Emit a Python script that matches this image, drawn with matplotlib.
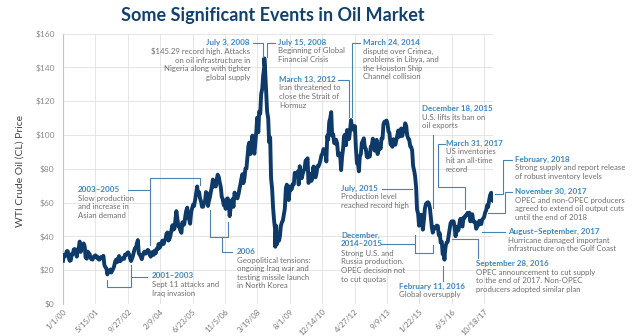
import matplotlib
matplotlib.use("Agg")
import matplotlib.pyplot as plt
import pandas as pd
from matplotlib.lines import Line2D

plt.rcParams["font.family"] = ["Lato", "DejaVu Sans"]

# WTI crude oil price (USD/bbl), readings on the 1st and 15th of each month
wti_2000 = [25.6, 29.0, 28.2, 29.6, 31.3, 31.2, 26.9, 25.5, 25.9, 29.6, 29.4, 32.3,
            32.5, 31.0, 28.0, 31.5, 33.4, 36.9, 30.8, 34.8, 34.0, 35.8, 34.0, 27.5]
wti_2001 = [26.8, 31.0, 30.2, 29.5, 27.4, 26.5, 26.3, 27.8, 28.3, 28.8, 27.5, 28.0,
            26.5, 26.2, 27.3, 27.9, 27.0, 28.5, 23.0, 21.9, 21.0, 17.5, 19.5, 19.4]
wti_2002 = [20.4, 18.6, 20.0, 21.0, 22.5, 25.0, 26.3, 24.7, 26.7, 28.4, 25.3, 25.9,
            26.9, 27.2, 26.7, 29.2, 29.1, 29.8, 30.6, 29.5, 27.0, 25.4, 26.9, 28.5]
wti_2003 = [31.2, 33.0, 33.4, 36.0, 37.8, 30.0, 29.0, 28.0, 26.5, 28.8, 30.5, 31.0,
            29.8, 30.8, 32.0, 31.5, 29.2, 28.0, 29.0, 30.8, 29.1, 31.5, 30.0, 32.6]
wti_2004 = [32.5, 35.5, 33.3, 34.4, 36.5, 37.5, 35.5, 37.5, 38.3, 41.5, 42.3, 37.5,
            38.5, 40.5, 43.8, 46.6, 44.0, 44.5, 50.1, 54.9, 50.1, 46.0, 45.5, 43.5]
wti_2005 = [42.1, 48.3, 46.7, 47.3, 51.7, 55.0, 57.0, 51.0, 50.0, 47.5, 54.5, 56.5,
            58.8, 58.0, 61.6, 65.0, 69.5, 64.7, 66.2, 62.6, 60.5, 57.5, 57.5, 59.5]
wti_2006 = [61.0, 66.2, 65.5, 58.0, 61.0, 63.0, 66.6, 69.3, 73.6, 69.5, 70.3, 69.5,
            73.9, 76.5, 75.0, 72.0, 69.0, 63.4, 62.0, 58.5, 58.7, 56.3, 62.0, 62.5]
wti_2007 = [61.0, 52.0, 57.5, 58.0, 62.0, 57.5, 65.9, 63.6, 63.7, 62.5, 65.0, 68.0,
            71.0, 74.0, 76.8, 71.5, 74.5, 80.0, 80.2, 86.0, 93.5, 95.5, 88.7, 91.3]
wti_2008 = [99.6, 91.9, 88.9, 95.5, 101.8, 110.2, 101.6, 113.8, 112.5, 124.1, 127.4, 134.9,
            140.0, 138.7, 125.1, 113.8, 109.7, 95.7, 98.5, 74.5, 67.8, 57.0, 49.3, 44.5]
wti_2009 = [46.3, 35.4, 40.1, 37.5, 40.2, 46.2, 48.4, 49.4, 53.2, 56.3, 68.6, 70.6,
            69.3, 61.5, 69.5, 67.5, 68.1, 71.0, 70.8, 77.6, 77.0, 76.4, 78.4, 70.7]
wti_2010 = [81.5, 78.0, 74.4, 77.0, 78.7, 79.8, 84.9, 84.5, 86.2, 71.6, 72.6, 76.9,
            72.9, 76.6, 81.3, 75.4, 74.9, 77.0, 81.6, 81.3, 82.9, 84.9, 88.0, 88.6]
wti_2011 = [91.6, 91.5, 90.8, 84.3, 99.6, 97.2, 107.9, 109.7, 113.5, 99.6, 100.3, 95.3,
            94.9, 97.2, 94.9, 87.9, 88.9, 88.9, 79.2, 86.8, 92.2, 99.4, 100.2, 93.9]
wti_2012 = [102.9, 98.7, 97.6, 102.3, 108.8, 105.1, 105.2, 102.8, 105.2, 92.8, 83.2, 84.0,
            78.5, 87.1, 88.9, 95.3, 96.5, 98.0, 92.5, 91.9, 87.1, 86.7, 88.9, 87.2]
wti_2013 = [93.1, 93.3, 97.8, 95.9, 90.7, 93.5, 97.1, 88.7, 91.0, 94.3, 91.9, 97.9,
            97.9, 106.3, 107.9, 107.3, 108.5, 106.6, 102.0, 101.2, 94.6, 93.8, 93.0, 97.5]
wti_2014 = [95.4, 94.2, 97.5, 100.3, 102.6, 98.9, 99.7, 103.8, 99.4, 102.0, 102.7, 106.9,
            105.3, 100.0, 97.9, 97.4, 93.3, 92.9, 90.7, 81.8, 78.8, 75.6, 69.0, 55.9]
wti_2015 = [53.3, 46.3, 48.2, 52.8, 49.6, 44.0, 50.1, 56.4, 59.2, 59.7, 60.2, 59.5,
            56.9, 51.4, 45.2, 42.2, 45.4, 44.6, 45.1, 46.4, 46.1, 40.7, 41.8, 36.3]
wti_2016 = [36.8, 29.4, 31.6, 29.0, 34.4, 36.3, 36.8, 40.4, 44.8, 47.7, 48.9, 48.0,
            48.9, 45.9, 40.1, 45.7, 43.2, 43.9, 48.2, 50.4, 46.7, 45.8, 51.1, 50.9]
wti_2017 = [52.3, 52.4, 53.9, 53.1, 54.0, 48.9, 50.6, 53.1, 48.8, 48.9, 48.4, 44.5,
            46.0, 46.5, 49.2, 47.6, 47.3, 49.9, 50.6, 51.5, 54.3, 55.3, 58.4, 57.3]
wti_2018 = [61.4, 64.3, 65.8, 61.3, 61.0]

# single-day extremes called out in the notes
extreme_dates = ["2008-07-03", "2008-12-19", "2016-02-11"]
extreme_prices = [145.29, 33.87, 26.21]

tick_labels = ["1/1/00", "5/15/01", "9/27/02", "2/9/04", "6/23/05", "11/5/06", "3/19/08",
               "8/1/09", "12/14/10", "4/27/12", "9/9/13", "1/22/15", "6/5/16", "10/18/17"]
price_ticks = [0, 20, 40, 60, 80, 100, 120, 140, 160]

event_titles = [
    "July 3, 2008", "July 15, 2008", "March 13, 2012", "March 24, 2014",
    "December 18, 2015", "March 31, 2017", "February, 2018", "November 30, 2017",
    "August\u2013September, 2017", "September 28, 2016", "February 11, 2016",
    "July, 2015", "December,\n2014\u20132015", "2003\u20132005", "2001\u20132003", "2006",
]
event_notes = [
    "$145.29 record high. Attacks\non oil infrastructure in\nNigeria along with tighter\nglobal supply",
    "Beginning of Global\nFinancial Crisis",
    "Iran threatened to\nclose the Strait of\nHormuz",
    "dispute over Crimea,\nproblems in Libya, and\nthe Houston Ship\nChannel collision",
    "U.S. lifts its ban on\noil exports",
    "US inventories\nhit an all-time\nrecord",
    "Strong supply and report release\nof robust inventory levels",
    "OPEC and non-OPEC producers\nagreed to extend oil output cuts\nuntil the end of 2018",
    "Hurricane damaged important\ninfrastructure on the Gulf Coast",
    "OPEC announcement to cut supply\nto the end of 2017. Non-OPEC\nproducers adopted similar plan",
    "Global oversupply",
    "Production level\nreached record high",
    "Strong U.S. and\nRussia production.\nOPEC decision not\nto cut quotas",
    "Slow production\nand increase in\nAsian demand",
    "Sept 11 attacks and\nIraq invasion",
    "Geopolitical tensions:\nongoing Iraq war and\ntesting missile launch\nin North Korea",
]

# ---- series -------------------------------------------------------------
semi_monthly = (wti_2000 + wti_2001 + wti_2002 + wti_2003 + wti_2004 + wti_2005 +
                wti_2006 + wti_2007 + wti_2008 + wti_2009 + wti_2010 + wti_2011 +
                wti_2012 + wti_2013 + wti_2014 + wti_2015 + wti_2016 + wti_2017 + wti_2018)
dates = pd.date_range("2000-01-01", periods=len(semi_monthly), freq="SMS")
wti = pd.Series(semi_monthly, index=dates)
extremes = pd.Series(extreme_prices, index=pd.to_datetime(extreme_dates))
wti = pd.concat([wti, extremes]).sort_index()

# ---- styling ------------------------------------------------------------
NAVY = "#12406f"
LINE = "#0d3a69"
NOTE_BLUE = "#3a86c0"
LEAD = "#4a82b0"
GRAY = "#6e6e6e"

W, H = 642, 336
fig = plt.figure(figsize=(W / 100, H / 100), dpi=100)
fig.patch.set_facecolor("white")


def fx(x):
    return x / W


def fy(y):
    return 1 - y / H


L, R, T, B = 63, 493, 33.5, 304
ax = fig.add_axes([fx(L), fy(B), (R - L) / W, (B - T) / H])
ax.plot(wti.index, wti.values, color=LINE, lw=2.8, solid_joinstyle="round", zorder=3)
ax.set_xlim(pd.Timestamp("2000-01-01"), wti.index[-1])
ax.set_ylim(0, 160)

ax.set_xticks(pd.to_datetime(tick_labels, format="%m/%d/%y"))
ax.set_xticklabels(tick_labels, rotation=45, ha="right", va="top",
                   rotation_mode="anchor", fontsize=5.6, color="#777777")
ax.set_yticks(price_ticks)
ax.set_yticklabels([f"${v}" for v in price_ticks], fontsize=6, color="#8a8a8a")
ax.tick_params(axis="both", length=0)
ax.tick_params(axis="y", pad=6)
ax.tick_params(axis="x", pad=3)
ax.grid(True, color="#e0e0e0", lw=0.6)
ax.set_axisbelow(True)
for side in ("top", "right", "bottom"):
    ax.spines[side].set_visible(False)
ax.spines["left"].set_color("#c4c4c4")
ax.spines["left"].set_linewidth(0.8)

fig.text(fx(20), fy(171), "WTI Crude Oil (CL) Price", rotation=90,
         ha="center", va="center", fontsize=7.5, color="#444444")
fig.text(fx(273), fy(15), "Some Significant Events in Oil Market",
         ha="center", va="center", fontsize=13, fontweight="bold", color=NAVY)

# ---- event notes --------------------------------------------------------
note_pos = [
    (250, 43, "right"), (278, 43, "left"), (279, 80, "left"), (363, 43, "left"),
    (422, 109, "left"), (446, 144, "left"), (515, 160, "left"), (515, 192, "left"),
    (508, 232, "left"), (476, 264, "left"), (399, 287, "left"),
    (341, 189, "left"), (341, 236, "left"), (78, 190, "left"), (152, 277, "left"),
    (237, 252, "left"),
]

for (x, y, ha), title, body in zip(note_pos, event_titles, event_notes):
    n_title = title.count("\n") + 1
    # first title line is centred on y
    fig.text(fx(x), fy(y - 4.5), title, ha=ha, va="top", fontsize=5.8,
             fontweight="bold", color=NOTE_BLUE, linespacing=1.25, multialignment=ha)
    body_top = y + 4.5 + 9.3 * (n_title - 1)
    fig.text(fx(x), fy(body_top), body, ha=ha, va="top", fontsize=5.6,
             color=GRAY, linespacing=1.27, multialignment=ha)

leaders = [
    [(253, 43), (263, 43), (263, 57)],
    [(275, 43), (267, 43), (267, 57)],
    [(338, 80), (349, 80), (349, 117)],
    [(360, 43), (352, 43), (352, 117)],
    [(433, 135), (433, 208)],
    [(445, 144), (438, 144), (438, 187), (465, 187), (465, 209)],
    [(512, 160), (503, 160), (503, 194), (495, 194)],
    [(512, 192), (505, 192), (505, 213), (488, 213)],
    [(482, 232), (505, 232)],
    [(452, 239), (478, 239), (478, 258)],
    [(443, 266), (443, 281)],
    [(382, 189), (412, 189)],
    [(381, 244), (415, 244)],
    [(415, 235), (415, 253), (433, 253), (433, 245)],
    [(128, 190), (150, 190)],
    [(150, 245), (150, 178), (200, 178), (200, 185)],
    [(147, 277), (131, 277)],
    [(131, 265), (131, 287), (107, 287), (107, 280)],
    [(210, 210), (210, 237), (228, 237), (228, 222)],
    [(222, 237), (222, 252), (232, 252)],
]
for pts in leaders:
    fig.add_artist(Line2D([fx(p[0]) for p in pts], [fy(p[1]) for p in pts],
                          transform=fig.transFigure, color=LEAD, lw=0.8, zorder=2))

fig.savefig("out.png", dpi=100, facecolor="white")
